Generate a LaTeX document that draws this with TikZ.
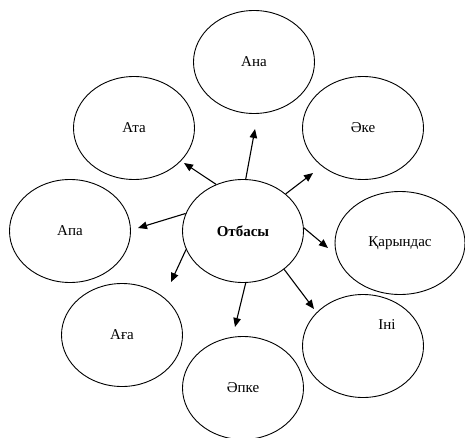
\documentclass[tikz,border=0pt]{standalone}
\usepackage{fontspec}
\setmainfont{Liberation Serif}
\usetikzlibrary{shapes.geometric,arrows.meta}
\begin{document}
\begin{tikzpicture}[x=1pt,y=1pt,
  circ/.style={draw,ellipse,line width=0.9pt,minimum width=121pt,minimum height=103pt,inner sep=0pt,font=\fontsize{15}{17}\selectfont},
  lbl/.style={font=\fontsize{15}{17}\selectfont,inner sep=0pt},
  arr/.style={line width=1.1pt,-{Triangle[length=9pt,width=7.5pt]}}]
\useasboundingbox (0,0) rectangle (465,437);
\node[circ] (ana) at (254,375) {Ана};
\node[circ] (ata) at (134,309) {Ата};
\node[circ] (eke) at (363,309) {Әке};
\node[circ] (apa) at (70,206) {Апа};
\node[circ,font=\fontsize{15}{17}\selectfont\bfseries] (otb) at (243,206) {Отбасы};
\node[circ,minimum width=130pt] (kar) at (400,194) {Қарындас};
\node[circ] (aga) at (122,102) {Аға};
\node[circ] (ini) at (363,91) {};
\node[lbl] (initext) at (387,112) {Іні};
\node[circ] (epke) at (243,49) {Әпке};
\coordinate (tAna) at (255,308);
\coordinate (tAta) at (184,274);
\coordinate (tEke) at (313,264);
\coordinate (tApa) at (138,209);
\coordinate (tKar) at (328,189);
\coordinate (tAga) at (171,155);
\coordinate (tEpke) at (235,110);
\coordinate (tIni) at (314,128);
\draw[arr] (otb.87) -- (tAna);
\draw[arr] (otb.120) -- (tAta);
\draw[arr] (otb.41) -- (tEke);
\draw[arr] (otb.163) -- (tApa);
\draw[arr] (otb.3) -- (tKar);
\draw[arr] (otb.198) -- (tAga);
\draw[arr] (otb.273) -- (tEpke);
\draw[arr] (otb.317) -- (tIni);
\end{tikzpicture}
\end{document}
